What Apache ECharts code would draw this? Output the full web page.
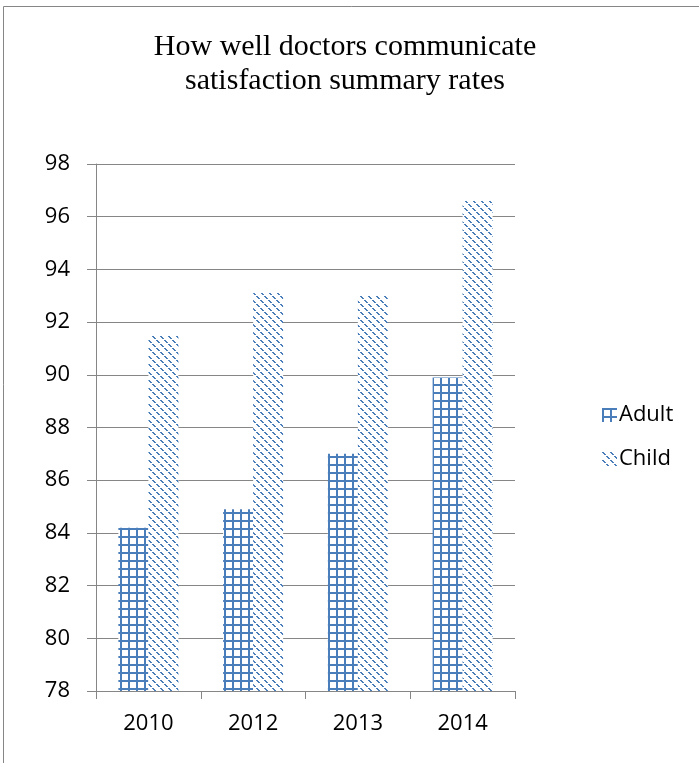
<!DOCTYPE html>
<html>
<head>
<meta charset="utf-8">
<script src="https://cdn.jsdelivr.net/npm/echarts@6/dist/echarts.min.js"></script>
<style>
  html, body { margin: 0; padding: 0; background: #fff; }
  #chart { width: 699px; height: 763px; }
</style>
</head>
<body>
<div id="chart"></div>
<script>
// Survey years and satisfaction rates (%)
const years = ['2010', '2012', '2013', '2014'];
const adultRates = [84.2, 84.9, 87.0, 89.9];
const childRates = [91.5, 93.1, 93.0, 96.6];
const yTicks = { min: 78, max: 98, interval: 2 };

const BLUE = '#4a7ebb';

// Cross-hatch (grid) fill for the Adult series
function gridPattern() {
  const c = document.createElement('canvas');
  c.width = 8; c.height = 8;
  const g = c.getContext('2d');
  g.fillStyle = '#fff';
  g.fillRect(0, 0, 8, 8);
  g.fillStyle = BLUE;
  g.fillRect(0, 0, 2, 8);
  g.fillRect(0, 0, 8, 2);
  return c;
}

// Dotted downward-diagonal fill for the Child series
function diagPattern() {
  const c = document.createElement('canvas');
  c.width = 8; c.height = 8;
  const g = c.getContext('2d');
  g.fillStyle = '#fff';
  g.fillRect(0, 0, 8, 8);
  g.fillStyle = BLUE;
  for (let i = 0; i < 8; i++) {
    if (i % 4 === 3) continue;
    g.fillRect(i, i, 1, 1);
    g.fillRect((i + 1) % 8, i, 1, 1);
  }
  return c;
}

const adultFill = { image: gridPattern(), repeat: 'repeat' };
const childFill = { image: diagPattern(), repeat: 'repeat' };

const axisGray = '#868686';
const labelFont = '"Open Sans", "Noto Sans", sans-serif';

const chart = echarts.init(document.getElementById('chart'), null, { renderer: 'canvas' });
chart.setOption({
  animation: false,
  backgroundColor: '#fff',
  title: {
    text: 'How well doctors communicate\nsatisfaction summary rates',
    left: 340,
    textAlign: 'center',
    top: 25,
    textStyle: {
      fontFamily: '"Liberation Serif", "Times New Roman", serif',
      fontSize: 30,
      fontWeight: 'normal',
      color: '#000',
      lineHeight: 34
    }
  },
  legend: {
    orient: 'vertical',
    left: 597,
    top: 399,
    itemWidth: 15,
    itemHeight: 14,
    itemGap: 22,
    icon: 'rect',
    textStyle: { fontFamily: labelFont, fontSize: 22, color: '#000', padding: [0, 0, 0, -3] },
    data: ['Adult', 'Child']
  },
  grid: { left: 96, right: 184, top: 164, bottom: 72, containLabel: false },
  xAxis: {
    type: 'category',
    data: years,
    boundaryGap: true,
    axisLine: { show: true, lineStyle: { color: axisGray, width: 1 } },
    axisTick: { show: true, length: 8, interval: 0, lineStyle: { color: axisGray } },
    axisLabel: { margin: 22, fontFamily: labelFont, fontSize: 22, color: '#000' },
    splitLine: { show: false }
  },
  yAxis: {
    type: 'value',
    min: yTicks.min,
    max: yTicks.max,
    interval: yTicks.interval,
    axisLine: { show: true, lineStyle: { color: axisGray, width: 1 } },
    axisTick: { show: true, length: 9, lineStyle: { color: axisGray } },
    axisLabel: { margin: 26, fontFamily: labelFont, fontSize: 22, color: '#000' },
    splitLine: { show: true, lineStyle: { color: axisGray, width: 1 } }
  },
  series: [
    {
      name: 'Adult',
      type: 'bar',
      data: adultRates,
      barWidth: 30,
      barGap: '0%',
      itemStyle: { color: adultFill }
    },
    {
      name: 'Child',
      type: 'bar',
      data: childRates,
      barWidth: 30,
      barGap: '0%',
      itemStyle: { color: childFill }
    }
  ],
  graphic: [
    { type: 'line', shape: { x1: 3.5, y1: 6.5, x2: 699, y2: 6.5 }, style: { stroke: axisGray, lineWidth: 1 } },
    { type: 'line', shape: { x1: 3.5, y1: 6.5, x2: 3.5, y2: 763 }, style: { stroke: axisGray, lineWidth: 1 } }
  ]
});
</script>
</body>
</html>
